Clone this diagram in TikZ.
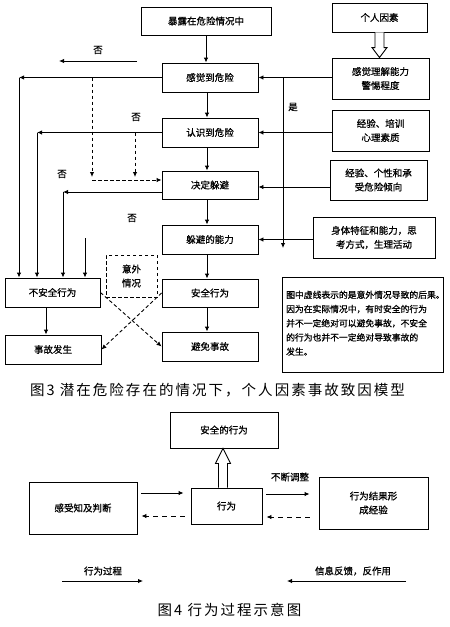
\documentclass[tikz,border=0pt]{standalone}
\usepackage{fontspec}
\setmainfont{Noto Sans CJK SC}[FakeBold=0.8]
\newfontfamily\capfont{Noto Sans CJK SC}[LetterSpace=14]
\usetikzlibrary{arrows.meta,calc}
\begin{document}
\begin{tikzpicture}[x=1pt,y=-1pt,
  box/.style={draw, line width=0.9pt, inner sep=0pt, font=\fontsize{9.5}{14}\selectfont, align=center},
  arr/.style={line width=0.9pt, -{Latex[length=5pt,width=4.5pt]}},
  ln/.style={line width=0.9pt},
  dsh/.style={line width=0.9pt, dash pattern=on 3.5pt off 2.5pt},
  ldsh/.style={line width=0.9pt, dash pattern=on 5pt off 4pt},
  lbl/.style={font=\fontsize{9.5}{11}\selectfont, inner sep=0pt},
  captext/.style={font=\capfont\fontsize{14.5}{17}\selectfont, inner sep=0pt}]
\useasboundingbox (0,0) rectangle (450,627);
\fill[white] (0,0) rectangle (450,627);

% ---------- Figure 3 ----------
\node[box, minimum width=130pt, minimum height=28pt] (exp) at (206,21) {暴露在危险情况中};
\node[box, minimum width=95pt, minimum height=29pt] (ind) at (379.5,17.5) {个人因素};
\node[box, minimum width=97pt, minimum height=41pt] (perc) at (380.5,78.5) {感觉理解能力\\警惕程度};
\node[box, minimum width=96pt, minimum height=29pt] (sense) at (210,77.5) {感觉到危险};
\node[box, minimum width=96pt, minimum height=29pt] (recog) at (210,132.5) {认识到危险};
\node[box, minimum width=96pt, minimum height=28pt] (decide) at (210,185) {决定躲避};
\node[box, minimum width=96pt, minimum height=29pt] (ability) at (210,239.5) {躲避的能力};
\node[box, minimum width=96pt, minimum height=28pt] (safe) at (210,293) {安全行为};
\node[box, minimum width=96pt, minimum height=29pt] (avoid) at (210,346.5) {避免事故};
\node[box, minimum width=95pt, minimum height=29pt] (unsafe) at (52.5,292.5) {不安全行为};
\node[box, minimum width=96pt, minimum height=29pt] (acc) at (53,349.5) {事故发生};
\node[box, dash pattern=on 3.5pt off 2.5pt, minimum width=51pt, minimum height=42pt] (unexp) at (131.5,276) {意外\\情况};
\node[box, minimum width=97pt, minimum height=41pt] (exptrain) at (380.5,130.5) {经验、培训\\心理素质};
\node[box, minimum width=97pt, minimum height=40pt] (exppers) at (378.5,180) {经验、个性和承\\受危险倾向};
\node[box, minimum width=122pt, minimum height=41pt] (body) at (374,237.5) {身体特征和能力，思\\考方式，生理活动};
\node[draw, line width=0.8pt, minimum width=161pt, minimum height=95pt, inner sep=0pt] (note) at (362.5,324.5) {};
\node[anchor=north west, align=left, inner sep=0pt, font=\fontsize{8.8}{14.2}\selectfont] (notetext) at (286,290.5)
  {图中虚线表示的是意外情况导致的后果。\\因为在实际情况中，有时安全的行为\\并不一定绝对可以避免事故，不安全\\的行为也并不一定绝对导致事故的\\发生。};

% hollow arrow
\coordinate (h1) at (ind.south);
\coordinate (h2) at (ind.south |- perc.north);
\draw[ln, fill=white] ($(h1)+(-4.5,0)$) -- ($(h2)+(-4.5,-10)$) -- ($(h2)+(-7.5,-10)$) -- (h2)
  -- ($(h2)+(7.5,-10)$) -- ($(h2)+(4.5,-10)$) -- ($(h1)+(4.5,0)$);

% main chain
\draw[arr] (exp.south) -- (exp.south |- sense.north);
\draw[arr] ([xshift=-3pt]sense.south) -- ([xshift=-3pt]recog.north);
\draw[arr] ([xshift=-3pt]recog.south) -- ([xshift=-3pt]decide.north);
\draw[arr] ([xshift=-3pt]decide.south) -- ([xshift=-3pt]ability.north);
\draw[arr] ([xshift=-3pt]ability.south) -- ([xshift=-3pt]safe.north);
\draw[arr] ([xshift=-3pt]safe.south) -- ([xshift=-3pt]avoid.north);
\draw[arr] ([xshift=-6.5pt]unsafe.south) -- ([xshift=-6.5pt]unsafe.south |- acc.north);

% right factors
\draw[arr] (sense.east -| perc.west) -- (sense.east);
\draw[arr] (recog.east -| exptrain.west) -- (recog.east);
\draw[arr] ([yshift=-2pt]decide.east -| exppers.west) -- ([yshift=-2pt]decide.east);
\draw[arr] (ability.east -| body.west) -- (ability.east);
\coordinate (y1) at (283,77.5);
\coordinate (y2) at (283,248);
\draw[arr] (y1) -- (y2);
\node[lbl] (yes) at (293,107) {是};

% top "no" arrow
\coordinate (n1) at (137,61);
\coordinate (n2) at (59,61);
\draw[arr] (n1) -- (n2);
\node[lbl] (no1) at (98,50) {否};
\node[lbl] (no2) at (136,117) {否};
\node[lbl] (no3) at (62,174) {否};
\node[lbl] (no4) at (132,218) {否};

% left "no" lines
\coordinate (c1) at (19,77.5);
\coordinate (c2) at (37,132.5);
\coordinate (c3) at (63,192);
\coordinate (c4) at (85,238);
\draw[arr] (sense.west) -- (c1);
\draw[arr] (c1) -- (c1 |- unsafe.north);
\draw[arr] (recog.west) -- (c2);
\draw[arr] (c2) -- (c2 |- unsafe.north);
\draw[arr] ([yshift=-7pt]decide.west) -- (c3);
\draw[arr] (c3) -- (c3 |- unsafe.north);
\draw[arr] (c4) -- (c4 |- unsafe.north);

% dashed consequences
\coordinate (d1) at (92,77.5);
\coordinate (d1b) at (92,180);
\coordinate (d2) at (135,132.5);
\draw[dsh, -{Latex[length=5pt,width=4.5pt]}] (d1) -- ([yshift=3pt]d1b);
\draw[dsh, -{Latex[length=5pt,width=4.5pt]}] (d2) -- (d2 |- 0,177);
\draw[dsh, -{Latex[length=5pt,width=4.5pt]}] (d1b) -- ([yshift=5pt]decide.west);
\draw[dsh, -{Latex[length=5pt,width=4.5pt]}] (unsafe.east) -- (avoid.west);
\draw[dsh, -{Latex[length=5pt,width=4.5pt]}] (safe.west) -- (acc.east);

\node[captext] (cap3) at (217.5,390) {图3 潜在危险存在的情况下，个人因素事故致因模型};

% ---------- Figure 4 ----------
\node[box, minimum width=108pt, minimum height=36pt] (safeact) at (224,430) {安全的行为};
\node[box, minimum width=108pt, minimum height=52pt] (judge) at (83,508) {感受知及判断};
\node[box, minimum width=71pt, minimum height=36pt] (act) at (226.5,506) {行为};
\node[box, minimum width=109pt, minimum height=52pt] (result) at (373.5,503) {行为结果形\\成经验};

\coordinate (h3) at ([xshift=-3.5pt]act.north);
\coordinate (h4) at (h3 |- safeact.south);
\draw[ln, fill=white] ($(h3)+(-4.5,0)$) -- ($(h4)+(-4.5,15)$) -- ($(h4)+(-7.5,15)$) -- (h4)
  -- ($(h4)+(7.5,15)$) -- ($(h4)+(4.5,15)$) -- ($(h3)+(4.5,0)$);

\draw[arr] ($(judge.east)+(4,-15)$) -- ($(act.west)+(-7,-13)$);
\draw[ldsh, -{Latex[length=5pt,width=4.5pt]}] ($(act.west)+(-6,10)$) -- ($(judge.east)+(4,8)$);
\draw[arr] ($(act.east)+(4,-12)$) -- ($(result.west)+(-9,-9)$);
\draw[ldsh, -{Latex[length=5pt,width=4.5pt]}] ($(result.west)+(-9,14)$) -- ($(act.east)+(4,11)$);
\node[lbl] (adjust) at (290,477) {不断调整};

\node[lbl] (leg1) at (103,571) {行为过程};
\coordinate (l1a) at (62,581);
\coordinate (l1b) at (143,581);
\draw[arr] (l1a) -- (l1b);
\node[lbl] (leg2) at (353,571) {信息反馈，反作用};
\coordinate (l2a) at (406,581);
\coordinate (l2b) at (287,581);
\draw[arr] (l2a) -- (l2b);

\node[captext] (cap4) at (229.5,610) {图4 行为过程示意图};
\end{tikzpicture}
\end{document}
